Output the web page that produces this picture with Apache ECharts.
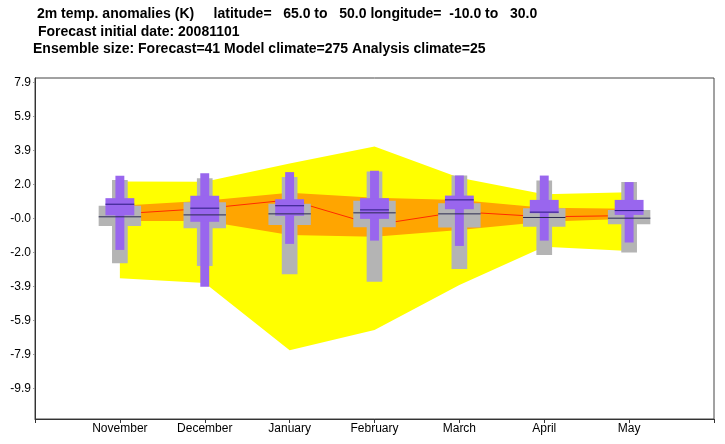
<!DOCTYPE html>
<html><head><meta charset="utf-8">
<script src="https://cdn.jsdelivr.net/npm/echarts@6/dist/echarts.min.js"></script>
<style>html,body{margin:0;padding:0;background:#fff}#c{width:725px;height:444px}</style>
</head><body><div id="c"></div>
<script>
const months = ['November','December','January','February','March','April','May'];
const yTickValues = [7.88, 5.91, 3.94, 1.97, 0, -1.97, -3.94, -5.91, -7.88, -9.85];
const yTickLabels = ['7.9','5.9','3.9','2.0','-0.0','-2.0','-3.9','-5.9','-7.9','-9.9'];
// Forecast ensemble (purple)
const fcMin = [-1.83, -3.97, -1.48, -1.29, -1.60, -1.29, -1.40];
const fcQ1  = [ 0.17, -0.20,  0.15, -0.03,  0.53,  0.30,  0.20];
const fcMed = [ 0.82,  0.59,  0.73,  0.49,  1.07,  0.36,  0.45];
const fcQ3  = [ 1.17,  1.31,  1.11,  1.17,  1.32,  1.07,  1.07];
const fcMax = [ 2.47,  2.62,  2.68,  2.76,  2.48,  2.48,  2.10];
// Model climate (grey)
const clMin = [-2.60, -2.76, -3.24, -3.67, -2.93, -2.12, -1.98];
const clQ1  = [-0.44, -0.57, -0.38, -0.51, -0.53, -0.48, -0.34];
const clMed = [ 0.09,  0.20,  0.26,  0.32,  0.26,  0.05,  0.01];
const clQ3  = [ 0.73,  0.93,  0.84,  1.02,  0.88,  0.59,  0.49];
const clMax = [ 2.23,  2.33,  2.39,  2.71,  2.48,  2.19,  2.10];
// Analysis climate line and bands
const meanLine = [0.26, 0.57, 1.07, -0.38, 0.38, 0.09, 0.16];
const outerTop = [2.13, 2.12, 3.18, 4.16, 2.35, 1.40, 1.52];
const outerBot = [-3.47, -3.74, -7.64, -6.47, -3.86, -1.65, -1.89];
const innerTop = [0.73, 1.02, 1.48, 1.19, 1.07, 0.61, 0.55];
const innerBot = [-0.15, -0.15, -0.96, -1.07, -0.67, -0.20, -0.03];

const chart = echarts.init(document.getElementById('c'), null, {renderer: 'canvas'});

function bandSeries(top, bot, color, z) {
  return {
    type: 'custom', z: z, silent: true, clip: true,
    data: [[1, 0]],
    renderItem: function (params, api) {
      const pts = [];
      for (let i = 0; i < top.length; i++) pts.push(api.coord([i + 1, top[i]]));
      for (let i = bot.length - 1; i >= 0; i--) pts.push(api.coord([i + 1, bot[i]]));
      return {type: 'polygon', shape: {points: pts}, style: {fill: color}};
    }
  };
}

function boxSeries(mn, q1, q3, mx, wideW, narrowW, color, z) {
  return {
    type: 'custom', z: z, silent: true,
    data: months.map((m, i) => [i + 1, mn[i], q1[i], q3[i], mx[i]]),
    renderItem: function (params, api) {
      const x = api.value(0);
      const ww = api.size([wideW, 0])[0];
      const nw = api.size([narrowW, 0])[0];
      const pMin = api.coord([x, api.value(1)]);
      const pQ1 = api.coord([x, api.value(2)]);
      const pQ3 = api.coord([x, api.value(3)]);
      const pMax = api.coord([x, api.value(4)]);
      return {type: 'group', children: [
        {type: 'rect', shape: {x: pMax[0] - nw / 2, y: pMax[1], width: nw, height: pMin[1] - pMax[1]}, style: {fill: color}},
        {type: 'rect', shape: {x: pQ3[0] - ww / 2, y: pQ3[1], width: ww, height: pQ1[1] - pQ3[1]}, style: {fill: color}}
      ]};
    }
  };
}

function medianSeries(med, w, color, z) {
  return {
    type: 'custom', z: z, silent: true,
    data: months.map((m, i) => [i + 1, med[i]]),
    renderItem: function (params, api) {
      const p = api.coord([api.value(0), api.value(1)]);
      const hw = api.size([w, 0])[0] / 2;
      return {type: 'line', shape: {x1: p[0] - hw, y1: p[1], x2: p[0] + hw, y2: p[1]},
              style: {stroke: color, lineWidth: 1}};
    }
  };
}

const titleFont = 'bold 14px "Liberation Sans", Arial, sans-serif';

chart.setOption({
  animation: false,
  backgroundColor: '#fff',
  grid: {left: 35, right: 11, top: 78, bottom: 25, show: true, borderColor: '#444', borderWidth: 1, backgroundColor: 'transparent'},
  graphic: [
    {type: 'text', left: 37, top: 7, style: {text: '2m temp. anomalies (K)     latitude=   65.0 to   50.0 longitude=  -10.0 to   30.0', font: titleFont, fill: '#000'}},
    {type: 'text', left: 38, top: 25, style: {text: 'Forecast initial date: 20081101', font: titleFont, fill: '#000'}},
    {type: 'text', left: 33, top: 42, style: {text: 'Ensemble size: Forecast=41 Model climate=275 Analysis climate=25', font: titleFont, fill: '#000'}}
  ],
  xAxis: {
    type: 'value', min: 0, max: 8, interval: 1,
    axisLine: {show: true, onZero: false, lineStyle: {color: '#333', width: 1}},
    axisTick: {show: true, length: 4, lineStyle: {color: '#333'}},
    axisLabel: {color: '#000', fontSize: 12, fontFamily: '"Liberation Sans", Arial, sans-serif', margin: 4,
      formatter: v => months[Math.round(v) - 1] || ''},
    splitLine: {show: false}
  },
  yAxis: {
    type: 'value', min: -11.63, max: 8.135,
    axisLine: {show: true, onZero: false, lineStyle: {color: '#333', width: 1}},
    axisTick: {show: true, length: 2, customValues: yTickValues, lineStyle: {color: '#999'}},
    axisLabel: {color: '#000', fontSize: 12, fontFamily: '"Liberation Sans", Arial, sans-serif', margin: 4,
      customValues: yTickValues,
      formatter: function (v) {
        let best = 0, bd = 1e9;
        yTickValues.forEach((t, i) => { const d = Math.abs(t - v); if (d < bd) { bd = d; best = i; } });
        return yTickLabels[best];
      }},
    splitLine: {show: false}
  },
  series: [
    bandSeries(outerTop, outerBot, '#ffff00', 1),
    bandSeries(innerTop, innerBot, '#ffa500', 2),
    {type: 'line', z: 3, silent: true, symbol: 'none', data: meanLine.map((v, i) => [i + 1, v]),
     lineStyle: {color: '#ff2a00', width: 1}},
    boxSeries(clMin, clQ1, clQ3, clMax, 0.5, 0.185, '#b4b4b4', 4),
    boxSeries(fcMin, fcQ1, fcQ3, fcMax, 0.34, 0.105, '#9966ee', 5),
    medianSeries(clMed, 0.5, '#2a2a50', 6),
    medianSeries(fcMed, 0.34, '#2a1a80', 7)
  ]
});
</script>
</body></html>
